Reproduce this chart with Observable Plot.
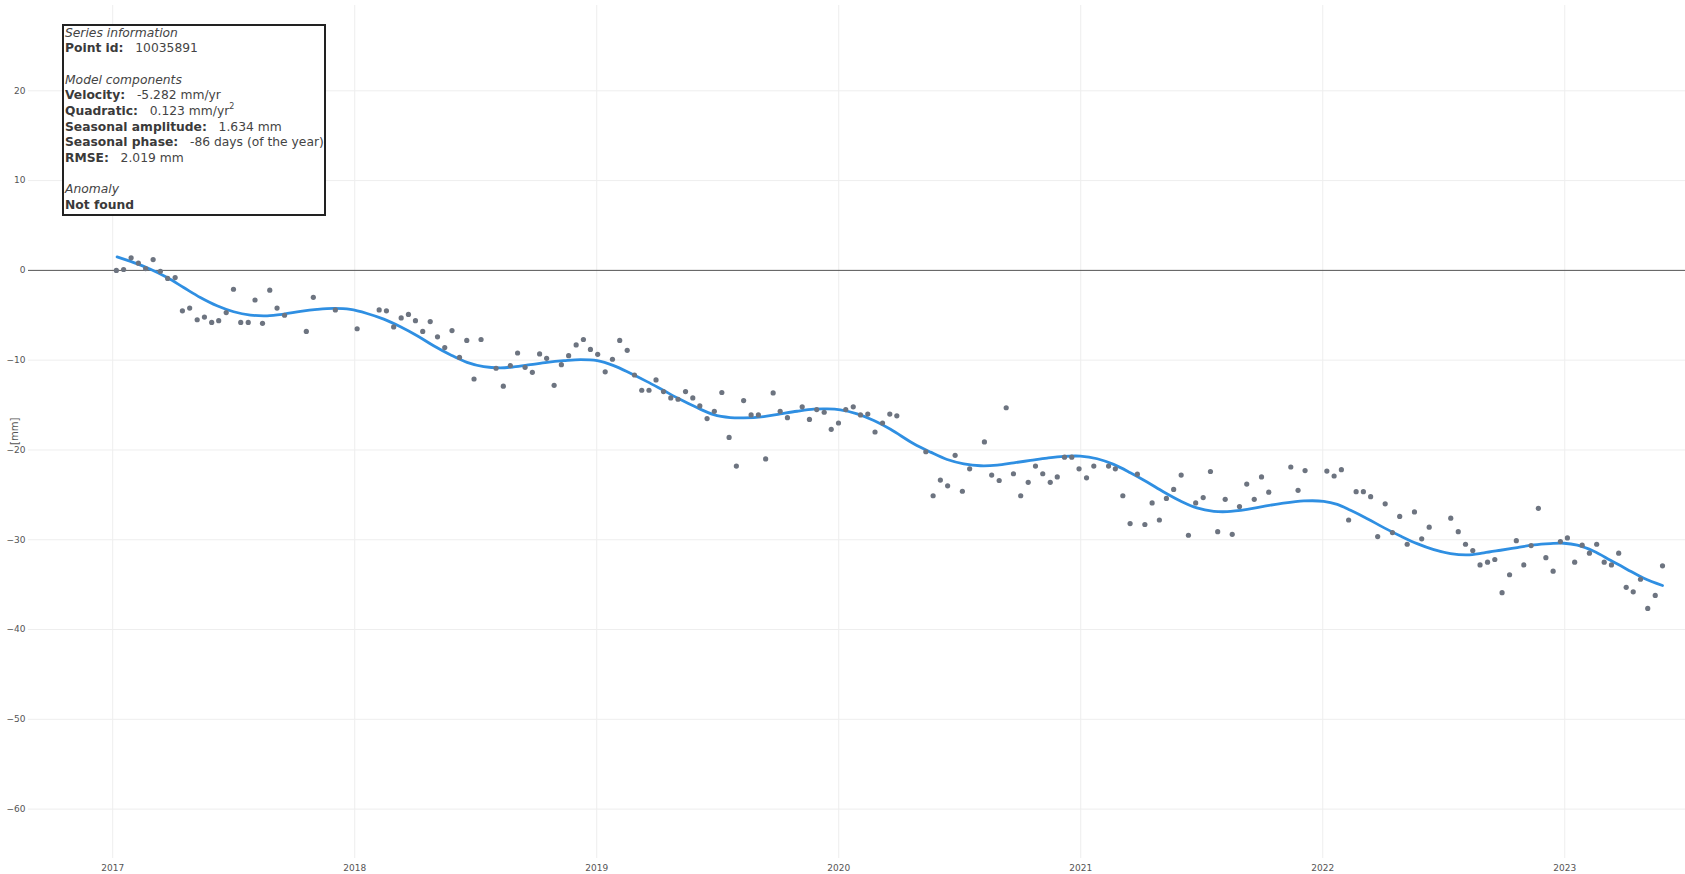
<!DOCTYPE html>
<html>
<head>
<meta charset="utf-8">
<script src="https://cdn.jsdelivr.net/npm/d3@7"></script>
<script src="https://cdn.jsdelivr.net/npm/@observablehq/plot@0.6"></script>
<style>
  html, body { margin: 0; padding: 0; background: #fff; }
  #wrap { position: relative; width: 1685px; height: 874px; overflow: hidden; }
  #info {
    position: absolute; left: 62px; top: 23.5px; width: 259px;
    border: 2px solid #222; background: #fff;
    font-family: "DejaVu Sans", Verdana, sans-serif; font-size: 12.3px;
    line-height: 15.7px; color: #444; padding: 0 0 0 1px; white-space: pre;
  }
  #info .row { height: 15.7px; }
  #info b { color: #3a3a3a; }
  #info sup { font-size: 8px; line-height: 0; position: relative; top: -1px; vertical-align: super; }
</style>
</head>
<body>
<div id="wrap"><div id="chart"></div><div id="info"></div></div>
<script>
// ---- Data (decimal years, displacement in mm) ----
const pointYears = [
  2017.015,2017.045,2017.076,2017.106,2017.136,2017.167,2017.197,2017.227,2017.258,2017.288,
  2017.318,2017.349,2017.379,2017.409,2017.438,2017.469,2017.499,2017.529,2017.560,2017.588,
  2017.619,2017.649,2017.679,2017.710,2017.800,2017.829,2017.920,2018.010,2018.101,2018.131,
  2018.161,2018.192,2018.222,2018.251,2018.281,2018.312,2018.342,2018.372,2018.402,2018.433,
  2018.463,2018.493,2018.522,2018.584,2018.614,2018.643,2018.673,
  2018.704,2018.734,2018.764,2018.793,2018.824,2018.854,2018.884,2018.915,2018.945,2018.974,
  2019.004,2019.035,2019.065,2019.095,2019.126,2019.156,2019.186,2019.216,2019.245,2019.276,
  2019.306,2019.336,2019.367,2019.397,2019.426,2019.456,2019.486,2019.517,2019.547,2019.577,
  2019.607,2019.638,2019.668,2019.698,2019.729,2019.758,2019.788,2019.849,2019.879,2019.909,
  2019.940,2019.969,2019.999,2020.029,2020.060,2020.090,2020.120,2020.150,2020.181,2020.211,
  2020.240,
  2020.360,2020.390,2020.420,2020.450,2020.481,2020.511,2020.541,2020.602,2020.632,2020.663,
  2020.692,2020.722,2020.752,2020.783,2020.813,2020.843,2020.874,2020.903,2020.933,2020.963,
  2020.993,2021.024,2021.054,2021.115,2021.143,2021.174,2021.204,2021.234,2021.265,2021.295,
  2021.325,2021.354,2021.384,2021.415,2021.445,2021.475,2021.506,2021.536,2021.566,2021.597,
  2021.626,2021.656,2021.686,2021.717,2021.747,2021.777,2021.868,2021.898,
  2021.927,2022.017,2022.047,2022.077,2022.107,2022.138,2022.168,2022.198,2022.227,2022.258,
  2022.288,2022.318,2022.349,2022.379,2022.409,2022.440,2022.529,2022.560,2022.590,2022.620,
  2022.650,2022.681,2022.711,2022.741,2022.772,2022.800,2022.831,2022.861,2022.891,2022.922,
  2022.952,2022.982,2023.011,2023.041,2023.072,2023.102,2023.132,2023.163,2023.193,2023.223,
  2023.254,2023.283,2023.313,2023.343,2023.374,2023.404
];
const pointValues = [
  0.0,0.1,1.4,0.8,0.2,1.2,-0.1,-0.9,-0.8,-4.5,
  -4.2,-5.5,-5.2,-5.8,-5.6,-4.7,-2.1,-5.8,-5.8,-3.3,
  -5.9,-2.2,-4.2,-5.0,-6.8,-3.0,-4.4,-6.5,-4.4,-4.5,
  -6.3,-5.3,-4.9,-5.6,-6.8,-5.7,-7.4,-8.6,-6.7,-9.7,
  -7.8,-12.1,-7.7,-10.9,-12.9,-10.6,-9.2,
  -10.8,-11.35,-9.3,-9.8,-12.8,-10.5,-9.5,-8.3,-7.7,-8.8,
  -9.35,-11.3,-9.9,-7.8,-8.9,-11.65,-13.35,-13.35,-12.2,-13.5,
  -14.2,-14.35,-13.5,-14.2,-15.1,-16.5,-15.7,-13.6,-18.6,-21.8,
  -14.5,-16.1,-16.1,-21.0,-13.65,-15.7,-16.4,-15.2,-16.6,-15.5,
  -15.8,-17.7,-17.0,-15.5,-15.2,-16.1,-16.0,-18.0,-17.0,-16.0,
  -16.2,
  -20.2,-25.1,-23.35,-24.0,-20.6,-24.6,-22.1,-19.1,-22.8,-23.4,
  -15.3,-22.65,-25.1,-23.6,-21.8,-22.65,-23.6,-23.0,-20.8,-20.8,
  -22.1,-23.1,-21.8,-21.8,-22.1,-25.1,-28.2,-22.7,-28.3,-25.9,
  -27.8,-25.4,-24.4,-22.8,-29.5,-25.9,-25.3,-22.4,-29.1,-25.5,
  -29.4,-26.3,-23.8,-25.5,-23.0,-24.7,-21.9,-24.5,
  -22.3,-22.35,-22.9,-22.2,-27.8,-24.65,-24.65,-25.2,-29.65,-26.0,
  -29.2,-27.4,-30.5,-26.9,-29.9,-28.6,-27.6,-29.1,-30.5,-31.2,
  -32.8,-32.5,-32.2,-35.9,-33.9,-30.1,-32.8,-30.65,-26.5,-32.0,
  -33.5,-30.2,-29.8,-32.5,-30.6,-31.5,-30.5,-32.5,-32.8,-31.5,
  -35.3,-35.8,-34.4,-37.65,-36.2,-32.9
];
const modelYears = [
  2017.018,2017.087,2017.156,2017.225,2017.293,2017.362,2017.431,2017.500,2017.569,2017.638,
  2017.707,2017.776,2017.845,2017.913,2017.982,2018.051,2018.120,2018.189,2018.258,2018.326,
  2018.395,2018.464,2018.533,2018.602,2018.657,2018.726,2018.795,2018.864,2018.933,2019.002,
  2019.070,2019.139,2019.208,2019.277,2019.346,2019.416,2019.483,2019.552,2019.607,2019.690,
  2019.759,2019.828,2019.897,2019.952,2020.007,2020.076,2020.145,2020.214,2020.310,2020.379,
  2020.448,2020.517,2020.586,2020.655,2020.723,2020.792,2020.861,2020.930,2020.998,2021.068,
  2021.136,2021.205,2021.274,2021.343,2021.412,2021.480,2021.550,2021.605,2021.688,2021.756,
  2021.825,2021.922,2022.004,2022.060,2022.115,2022.184,2022.252,2022.321,2022.390,2022.459,
  2022.528,2022.597,2022.666,2022.735,2022.804,2022.873,2022.941,2022.996,2023.052,2023.120,
  2023.189,2023.258,2023.327,2023.404
];
const modelValues = [
  1.5,0.87,0.13,-0.8,-1.91,-3.02,-3.94,-4.61,-4.98,-5.06,
  -4.87,-4.57,-4.35,-4.24,-4.35,-4.8,-5.43,-6.28,-7.28,-8.39,
  -9.39,-10.24,-10.72,-10.85,-10.75,-10.5,-10.24,-10.06,-9.94,-10.06,
  -10.61,-11.46,-12.39,-13.39,-14.39,-15.31,-16.06,-16.39,-16.43,-16.28,
  -15.98,-15.69,-15.46,-15.43,-15.54,-15.98,-16.72,-17.7,-19.31,-20.24,
  -21.06,-21.54,-21.76,-21.69,-21.43,-21.17,-20.91,-20.72,-20.69,-20.98,
  -21.61,-22.54,-23.57,-24.69,-25.69,-26.46,-26.83,-26.87,-26.61,-26.28,
  -25.98,-25.68,-25.72,-26.06,-26.72,-27.65,-28.65,-29.58,-30.43,-31.1,
  -31.54,-31.69,-31.46,-31.17,-30.87,-30.57,-30.43,-30.39,-30.61,-31.28,
  -32.28,-33.31,-34.28,-35.09
];
const yearTicks = [2017, 2018, 2019, 2020, 2021, 2022, 2023];
const yTicks = [-60, -50, -40, -30, -20, -10, 0, 10, 20];
const yLabel = "[mm]";
const infoLines = [
  ["i", "Series information", ""],
  ["b", "Point id:", "10035891"],
  ["", "", ""],
  ["i", "Model components", ""],
  ["b", "Velocity:", "-5.282 mm/yr"],
  ["b", "Quadratic:", "0.123 mm/yr<sup>2</sup>"],
  ["b", "Seasonal amplitude:", "1.634 mm"],
  ["b", "Seasonal phase:", "-86 days (of the year)"],
  ["b", "RMSE:", "2.019 mm"],
  ["", "", ""],
  ["i", "Anomaly", ""],
  ["b", "Not found", ""]
];

// ---- Build tables ----
const points = pointYears.map((t, i) => ({t, v: pointValues[i]}));
const model = modelYears.map((t, i) => ({t, v: modelValues[i]}));

const chart = Plot.plot({
  width: 1685,
  height: 874,
  marginLeft: 28,
  marginRight: 0,
  marginTop: 5,
  marginBottom: 16,
  x: {domain: [2016.652, 2023.499]},
  y: {domain: [-65.5, 29.5]},
  style: {fontFamily: "'DejaVu Sans', Verdana, sans-serif", fontSize: "9px", color: "#555", background: "#fff", overflow: "visible"},
  marks: [
    Plot.gridX(yearTicks, {stroke: "#eee", strokeOpacity: 1}),
    Plot.gridY(yTicks.filter(d => d !== 0), {stroke: "#eee", strokeOpacity: 1}),
    Plot.ruleY([0], {stroke: "#555", strokeWidth: 1}),
    Plot.axisX(yearTicks, {tickSize: 0, tickPadding: 6, tickFormat: d => String(d), label: null}),
    Plot.axisY(yTicks, {tickSize: 0, tickPadding: 3, tickFormat: d => d < 0 ? "\u2212" + Math.abs(d) : String(d), label: null}),
    Plot.text([yLabel], {frameAnchor: "left", dx: -14, dy: 13, rotate: -90, fontSize: 10, fill: "#555"}),
    Plot.line(model, {x: "t", y: "v", stroke: "#2f8fe2", strokeWidth: 2.8, curve: "catmull-rom"}),
    Plot.dot(points, {x: "t", y: "v", r: 2.6, fill: "#6d7480", stroke: "none"})
  ]
});
document.getElementById("chart").appendChild(chart);

const info = document.getElementById("info");
info.innerHTML = infoLines.map(([kind, a, b]) => {
  if (kind === "i") return `<div class="row"><i>${a}</i></div>`;
  if (kind === "b") return `<div class="row"><b>${a}</b>${b ? "   " + b : ""}</div>`;
  return `<div class="row"> </div>`;
}).join("");
</script>
</body>
</html>
